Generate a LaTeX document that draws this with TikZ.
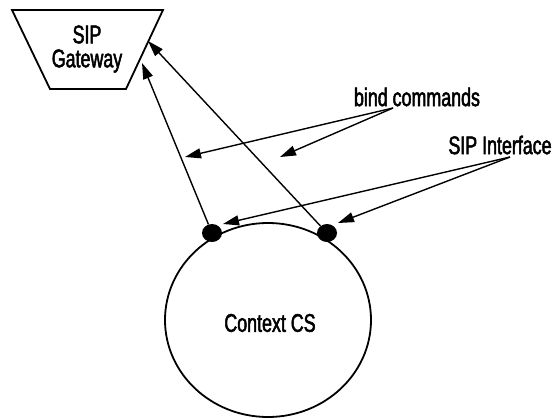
\documentclass[tikz,border=0pt]{standalone}
\usepackage{fontspec}
\setmainfont[FakeStretch=0.7,FakeBold=2]{Liberation Sans}
\usetikzlibrary{arrows.meta,shapes.geometric}
\begin{document}
\begin{tikzpicture}[x=1pt,y=-1pt,
  lbl/.style={font=\fontsize{25.5}{26}\selectfont, inner sep=0pt},
  conn/.style={line width=1.4pt},
  arr/.style={conn,-{Triangle[length=16pt,width=10pt]}},
  dotnode/.style={ellipse, fill=black, minimum width=20pt, minimum height=18pt, inner sep=0pt}]
\useasboundingbox (0,0) rectangle (556,417);
% gateway
\draw[line width=1.8pt, line join=miter] (12,10) -- (163,10) -- (126,89) -- (50,89) -- cycle;
\node[lbl, align=center] (gw) at (87,49) {SIP\\[-2pt]Gateway};
\coordinate (gwA) at (142,63);
\coordinate (gwB) at (148,41);
% context CS
\node[ellipse, draw, line width=1.8pt, minimum width=206pt, minimum height=194pt, inner sep=0pt] (cs) at (268,320) {};
\node[lbl] (cslbl) at (270,323) {Context CS};
\node[dotnode] (d1) at (212,233) {};
\node[dotnode] (d2) at (327,233) {};
% connectors to gateway
\draw[arr] (d1) -- (gwA);
\draw[arr] (d2) -- (gwB);
% labels
\node[lbl] (bind) at (417,97) {bind commands};
\node[lbl] (sipif) at (500,145) {SIP Interface};
\coordinate (bindsrc) at (393,108);
\coordinate (bindA) at (185,157);
\coordinate (bindB) at (280,157);
\coordinate (sipsrc) at (510,157);
\coordinate (sipA) at (223,224);
\coordinate (sipB) at (338,223);
\draw[arr] (bindsrc) -- (bindA);
\draw[arr] (bindsrc) -- (bindB);
\draw[arr] (sipsrc) -- (sipA);
\draw[arr] (sipsrc) -- (sipB);
\end{tikzpicture}
\end{document}
